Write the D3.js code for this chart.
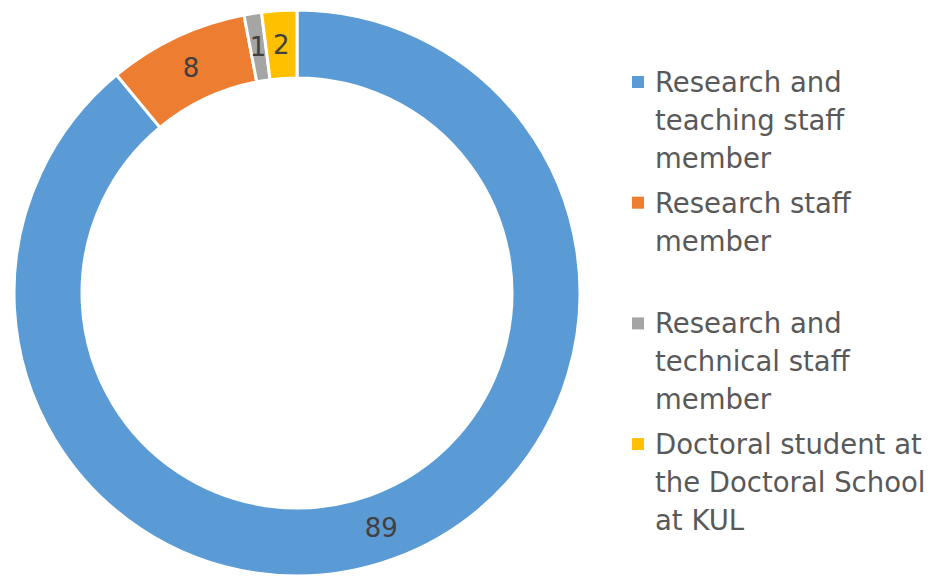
<!DOCTYPE html>
<html>
<head>
<meta charset="utf-8">
<script src="https://cdn.jsdelivr.net/npm/d3@7"></script>
<style>
body { margin: 0; background: #fff; }
text { font-family: "DejaVu Sans", Verdana, sans-serif; fill: #595959; }
</style>
</head>
<body>
<svg id="chart" width="936" height="576"></svg>
<script>
var categories = ["Research and teaching staff member", "Research staff member",
                  "Research and technical staff member", "Doctoral student at the Doctoral School at KUL"];
// legend wraps as in the original
var legendLines = [["Research and", "teaching staff", "member"],
                   ["Research staff", "member"],
                   ["Research and", "technical staff", "member"],
                   ["Doctoral student at", "the Doctoral School", "at KUL"]];
var values = [89, 8, 1, 2];
var colors = ["#5b9bd5", "#ed7d31", "#a5a5a5", "#ffc000"];

var svg = d3.select("#chart");
var cx = 297, cy = 293, outerR = 283, innerR = 215;

var pie = d3.pie().sort(null).value(function(d){ return d; });
var arc = d3.arc().innerRadius(innerR).outerRadius(outerR);
var arcs = pie(values);

var g = svg.append("g").attr("transform", "translate(" + cx + "," + cy + ")");

g.selectAll("path").data(arcs).enter().append("path")
  .attr("d", arc)
  .attr("fill", function(d, i){ return colors[i]; })
  .attr("stroke", "#fff")
  .attr("stroke-width", 3);

g.selectAll("text.lbl").data(arcs).enter().append("text")
  .attr("class", "lbl")
  .attr("transform", function(d){ return "translate(" + arc.centroid(d) + ")"; })
  .attr("text-anchor", "middle")
  .attr("dy", "0.36em")
  .style("font-size", "26px")
  .style("fill", "#404040")
  .text(function(d){ return d.value; });

// legend
var lineH = 38, slot = 120.7, lx = 655, ly0 = 82;
var leg = svg.selectAll("g.leg").data(categories).enter().append("g")
  .attr("class", "leg")
  .attr("transform", function(d, i){ return "translate(" + lx + "," + (ly0 + i * slot) + ")"; });

leg.append("rect")
  .attr("x", -23).attr("y", -6)
  .attr("width", 12).attr("height", 12)
  .attr("fill", function(d, i){ return colors[i]; });

leg.each(function(d, i){
  var t = d3.select(this).append("text")
    .style("font-size", "27.5px");
  legendLines[i].forEach(function(s, j){
    t.append("tspan").attr("x", 0).attr("y", j * lineH + 10).text(s);
  });
});
</script>
</body>
</html>
